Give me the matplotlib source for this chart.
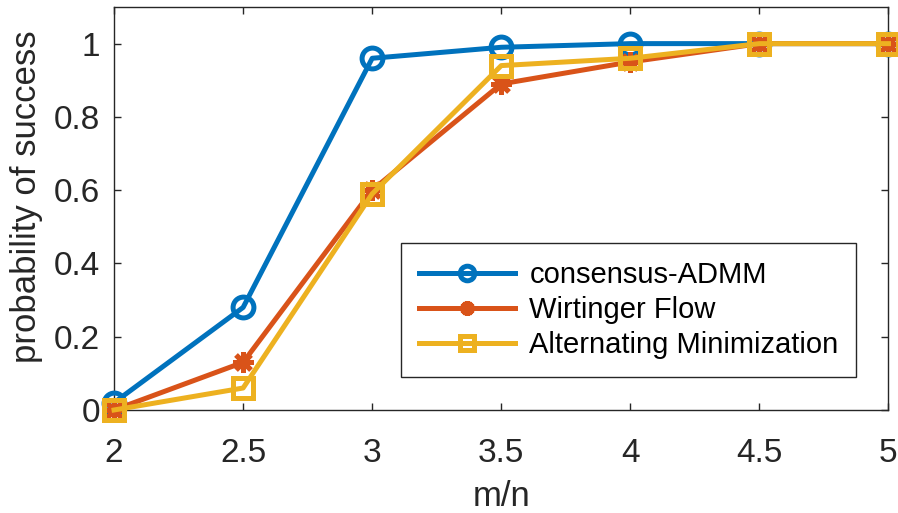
import numpy as np
import matplotlib
matplotlib.use('Agg')
import matplotlib.pyplot as plt

# data
ratio = [2, 2.5, 3, 3.5, 4, 4.5, 5]
admm = [0.02, 0.28, 0.96, 0.99, 1.0, 1.0, 1.0]
wirtinger = [0.0, 0.13, 0.60, 0.89, 0.95, 1.0, 1.0]
altmin = [0.0, 0.06, 0.59, 0.94, 0.96, 1.0, 1.0]

plt.rcParams['font.family'] = ['Liberation Sans', 'DejaVu Sans']

fig = plt.figure(figsize=(8.98, 5.13), dpi=100)
ax = fig.add_axes([0.127, 0.2008, 0.8624, 0.7856])

lw = 3.6
ax.plot(ratio, admm, color='#0072BD', lw=lw, marker='o', ms=15,
        mfc='none', mew=lw, label='consensus-ADMM', clip_on=False, zorder=3)
ax.plot(ratio, wirtinger, color='#D95319', lw=lw, marker=(8, 2, 0), ms=15,
        mew=lw, label='Wirtinger Flow', clip_on=False, zorder=4)
ax.plot(ratio, altmin, color='#EDB120', lw=lw, marker='s', ms=14,
        mfc='none', mew=lw, label='Alternating Minimization', clip_on=False, zorder=5)

ax.set_xlim(2, 5)
ax.set_ylim(0, 1.1)
ax.set_xticks([2, 2.5, 3, 3.5, 4, 4.5, 5])
ax.set_xticklabels(['2', '2.5', '3', '3.5', '4', '4.5', '5'])
ax.set_yticks([0, 0.2, 0.4, 0.6, 0.8, 1])
ax.set_yticklabels(['0', '0.2', '0.4', '0.6', '0.8', '1'])

ax.tick_params(direction='in', length=5, width=1, top=True, right=True,
               labelsize=24, colors='#262626')
ax.tick_params(axis='x', pad=20)
ax.tick_params(axis='y', pad=10)
for s in ax.spines.values():
    s.set_color('#262626')
    s.set_linewidth(1)

ax.set_xlabel('m/n', fontsize=25, color='#262626', labelpad=8)
ax.set_ylabel('probability of success', fontsize=25, color='#262626')
ax.yaxis.set_label_coords(-0.092, 0.529)

leg = ax.legend(loc='lower left', bbox_to_anchor=(0.3706, 0.082), borderaxespad=0,
                fontsize=21, handlelength=3.3, frameon=True, fancybox=False,
                borderpad=0.6, labelspacing=0.25, handletextpad=0.5,
                markerscale=0.7)
leg.get_frame().set_edgecolor('#262626')
leg.get_frame().set_linewidth(1)
leg.get_frame().set_alpha(1)

fig.savefig('out.png', dpi=100)
